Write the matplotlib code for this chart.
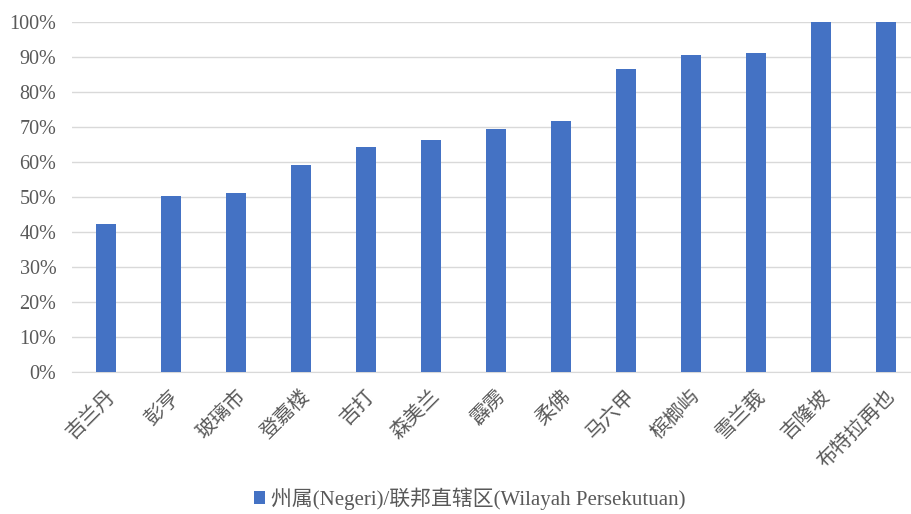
import matplotlib
matplotlib.use("Agg")
import matplotlib.pyplot as plt
from matplotlib.ticker import PercentFormatter

plt.rcParams['font.family'] = ['Liberation Serif', 'Noto Sans CJK SC', 'DejaVu Sans']

states = ["吉兰丹", "彭亨", "玻璃市", "登嘉楼", "吉打", "森美兰", "霹雳",
          "柔佛", "马六甲", "槟榔屿", "雪兰莪", "吉隆坡", "布特拉再也"]
shares = [0.423, 0.502, 0.512, 0.590, 0.643, 0.662, 0.695,
          0.717, 0.864, 0.905, 0.912, 1.0, 1.0]
legend_label = "州属(Negeri)/联邦直辖区(Wilayah Persekutuan)"

fig = plt.figure(figsize=(9.12, 5.14), dpi=100)
ax = fig.add_axes([0.0786, 0.2763, 0.9214, 0.6815])

x = range(len(states))
ax.bar(x, shares, width=0.31, color="#4472C4", label=legend_label, zorder=3)

ax.set_ylim(0, 1.0)
ax.set_xlim(-0.53, len(states) - 0.6)
ax.set_yticks([i / 10 for i in range(11)])
ax.yaxis.set_major_formatter(PercentFormatter(1.0, decimals=0))
ax.grid(axis="y", color="#d9d9d9", linewidth=1, zorder=0)

for side in ["top", "right", "left"]:
    ax.spines[side].set_visible(False)
ax.spines["bottom"].set_color("#d9d9d9")

ax.set_xticks(list(x))
ax.set_xticklabels(states, rotation=45, ha="right", rotation_mode="anchor",
                   fontsize=14.5, color="#595959")
ax.tick_params(axis="y", length=0, colors="#595959", labelsize=14.5, pad=11)
ax.tick_params(axis="x", length=0, colors="#595959", pad=11)

fig.legend(loc="lower center", bbox_to_anchor=(0.515, -0.028), frameon=False,
           fontsize=15, labelcolor="#595959", handlelength=0.55, handleheight=0.55,
           handletextpad=0.3)

fig.savefig("out.png", dpi=100)
